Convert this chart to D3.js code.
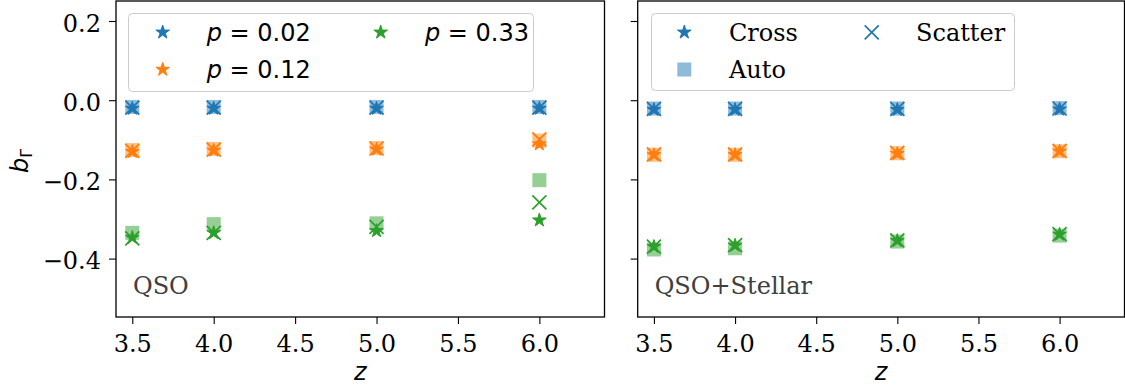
<!DOCTYPE html>
<html><head><meta charset="utf-8">
<script src="https://cdn.jsdelivr.net/npm/d3@7"></script>
<style>
body{margin:0;background:#fff;}
svg{display:block;}
</style></head>
<body><svg id="c" width="1125" height="387"></svg>
<script>
const zVals = [3.5, 4.0, 5.0, 6.0];
const pLabels = ["0.02", "0.12", "0.33"];
const seriesColors = ["#1f77b4", "#ff7f0e", "#2ca02c"];
const xTicks = [3.5, 4.0, 4.5, 5.0, 5.5, 6.0];
const yTicks = [0.2, 0.0, -0.2, -0.4];
const panelTitles = ["QSO", "QSO+Stellar"];

// QSO panel
const qsoCross   = [[-0.019,-0.019,-0.019,-0.019],[-0.128,-0.125,-0.122,-0.109],[-0.345,-0.333,-0.328,-0.301]];
const qsoScatter = [[-0.019,-0.019,-0.019,-0.019],[-0.128,-0.125,-0.122,-0.099],[-0.349,-0.335,-0.320,-0.258]];
const qsoAuto    = [[-0.017,-0.017,-0.017,-0.017],[-0.126,-0.123,-0.121,-0.102],[-0.335,-0.313,-0.311,-0.202]];
// QSO+Stellar panel
const stCross    = [[-0.022,-0.022,-0.022,-0.021],[-0.136,-0.136,-0.133,-0.127],[-0.368,-0.365,-0.353,-0.337]];
const stScatter  = [[-0.022,-0.022,-0.022,-0.021],[-0.137,-0.137,-0.133,-0.128],[-0.370,-0.366,-0.354,-0.338]];
const stAuto     = [[-0.021,-0.021,-0.021,-0.020],[-0.138,-0.138,-0.134,-0.129],[-0.377,-0.374,-0.357,-0.342]];

(function(){
const svg = d3.select("#c");
const serif = "'DejaVu Serif', serif";
const sans = "'DejaVu Sans', sans-serif";
const FS = 24;

const topY = 1, bottomY = 317;
const panels = [
  {x0:116, x1:604.5, cross:qsoCross, scatter:qsoScatter, auto:qsoAuto, title:panelTitles[0], ylabels:true},
  {x0:637.7, x1:1124.5, cross:stCross, scatter:stScatter, auto:stAuto, title:panelTitles[1], ylabels:false}
];
const y = d3.scaleLinear().domain([-0.5475, 0.2505]).range([bottomY, topY]);

const starGen = d3.symbol().type(d3.symbolStar).size(58);
function drawStar(g, cx, cy, color){
  g.append("path").attr("d", starGen()).attr("transform", `translate(${cx},${cy})`)
    .attr("fill", color).attr("stroke", color).attr("stroke-width", 1).attr("stroke-linejoin","miter");
}
function drawX(g, cx, cy, h, color){
  g.append("path").attr("d", `M${cx-h},${cy-h}L${cx+h},${cy+h}M${cx-h},${cy+h}L${cx+h},${cy-h}`)
    .attr("stroke", color).attr("stroke-width", 1.7).attr("fill","none");
}

panels.forEach((P, pi) => {
  const x = d3.scaleLinear().domain([3.4, 6.4]).range([P.x0, P.x1]);
  const g = svg.append("g");
  const xa = g.append("g").attr("transform", `translate(0,${bottomY})`)
    .call(d3.axisBottom(x).tickValues(xTicks).tickFormat(d3.format(".1f")).tickSize(7).tickPadding(11));
  xa.select(".domain").remove();
  xa.selectAll("line").attr("stroke","#000").attr("stroke-width",1.1);
  xa.selectAll("text").attr("font-family", serif).attr("font-size", FS).attr("fill","#000");
  const ya = g.append("g").attr("transform", `translate(${P.x0},0)`)
    .call(d3.axisLeft(y).tickValues(yTicks).tickFormat(d => P.ylabels ? d3.format(".1f")(d).replace("-", "\u2212") : "").tickSize(7).tickPadding(8));
  ya.select(".domain").remove();
  ya.selectAll("line").attr("stroke","#000").attr("stroke-width",1.1);
  ya.selectAll("text").attr("font-family", serif).attr("font-size", FS).attr("fill","#000").attr("dy","0.42em");

  for (let s = 0; s < 3; s++) {
    const col = seriesColors[s];
    zVals.forEach((z, i) => {
      const cx = x(z);
      g.append("rect").attr("x", cx-7).attr("y", y(P.auto[s][i])-7).attr("width",14).attr("height",14)
        .attr("fill", col).attr("fill-opacity", 0.5);
    });
  }
  for (let s = 0; s < 3; s++) {
    zVals.forEach((z, i) => drawStar(g, x(z), y(P.cross[s][i])+0.8, seriesColors[s]));
  }
  for (let s = 0; s < 3; s++) {
    zVals.forEach((z, i) => drawX(g, x(z), y(P.scatter[s][i]), 7, seriesColors[s]));
  }

  g.append("rect").attr("x", P.x0).attr("y", topY).attr("width", P.x1-P.x0).attr("height", bottomY-topY)
    .attr("fill","none").attr("stroke","#000").attr("stroke-width",1.3);

  g.append("text").attr("x", P.x0+17).attr("y", 294).attr("font-family", serif).attr("font-size", FS)
    .attr("fill","#404040").text(P.title);

  g.append("text").attr("x", (P.x0+P.x1)/2).attr("y", 380).attr("text-anchor","middle")
    .attr("font-family", sans).attr("font-style","italic").attr("font-size", FS).text("z");
});

const yl = svg.append("text").attr("transform","translate(28,161) rotate(-90)").attr("text-anchor","middle")
  .attr("font-family", sans).attr("font-size", FS);
yl.append("tspan").attr("font-style","italic").text("b");
yl.append("tspan").attr("font-size", 16).attr("dy", 4).text("\u0393");

const L1 = svg.append("g");
L1.append("rect").attr("x",128.5).attr("y",13.5).attr("width",405).attr("height",78).attr("rx",4)
  .attr("fill","#fff").attr("fill-opacity",0.8).attr("stroke","#cccccc").attr("stroke-width",1);
const leg1Pos = [[162.7,32.3,206.7,40.5],[162.7,69.5,206.7,78],[380.7,32.3,425,40.5]];
pLabels.forEach((lab, i) => {
  const [mx,my,tx,ty] = leg1Pos[i];
  drawStar(L1, mx, my, seriesColors[i]);
  const t = L1.append("text").attr("x",tx).attr("y",ty).attr("font-family",sans).attr("font-size",FS);
  t.append("tspan").attr("font-style","italic").text("p");
  t.append("tspan").text(" = " + lab);
});

const L2 = svg.append("g");
L2.append("rect").attr("x",651.5).attr("y",13.5).attr("width",363).attr("height",77).attr("rx",4)
  .attr("fill","#fff").attr("fill-opacity",0.8).attr("stroke","#cccccc").attr("stroke-width",1);
const markerNames = ["Cross", "Auto", "Scatter"];
drawStar(L2, 684.3, 32.3, seriesColors[0]);
L2.append("rect").attr("x",684.3-7).attr("y",69.5-7).attr("width",14).attr("height",14)
  .attr("fill", seriesColors[0]).attr("fill-opacity",0.5);
drawX(L2, 871.7, 32.3, 7, seriesColors[0]);
[[729,40.5],[729,78],[916,40.5]].forEach((p,i) => {
  L2.append("text").attr("x",p[0]).attr("y",p[1]).attr("font-family",serif).attr("font-size",FS).text(markerNames[i]);
});
})();
</script></body></html>
